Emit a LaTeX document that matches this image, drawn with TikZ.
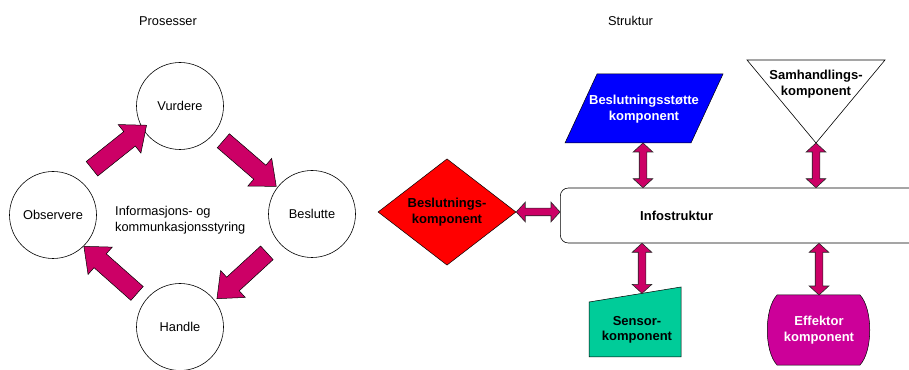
\documentclass[tikz,border=0pt]{standalone}
\usepackage{fontspec}
\setmainfont{Liberation Sans}
\usetikzlibrary{shapes.geometric,shapes.arrows,calc,positioning}

\definecolor{pilrod}{HTML}{CC0066}
\definecolor{effektorfarge}{HTML}{CC0099}
\definecolor{sensorfarge}{HTML}{00CC99}

\tikzset{
  txt/.style={font=\fontsize{12.8}{16}\selectfont, align=center, inner sep=0pt},
  btxt/.style={font=\fontsize{13}{15.5}\selectfont\bfseries, align=center, inner sep=0pt},
  prosess/.style={circle, draw, line width=0.6pt, minimum size=87pt, inner sep=0pt,
                  font=\fontsize{12.8}{16}\selectfont},
  kretspil/.style={single arrow, draw, line width=0.5pt, fill=pilrod,
                   single arrow head extend=9pt, single arrow tip angle=80,
                   single arrow head indent=0pt, inner xsep=0pt, inner ysep=9pt},
  dobbelpil/.style={double arrow, draw=black!85, line width=0.6pt, fill=pilrod,
                    double arrow head extend=6pt, double arrow tip angle=95,
                    double arrow head indent=0pt, inner xsep=0pt, inner ysep=3.5pt},
  krets/.style={to path={let \p1=(\tikztostart), \p2=(\tikztotarget),
      \n1={veclen(\x2-\x1,\y2-\y1)}, \n2={atan2(\y2-\y1,\x2-\x1)} in
      node[kretspil, minimum height=\n1, rotate=\n2] (#1) at ($(\p1)!0.5!(\p2)$) {}}},
  kobling/.style={to path={let \p1=(\tikztostart), \p2=(\tikztotarget),
      \n1={veclen(\x2-\x1,\y2-\y1)}, \n2={atan2(\y2-\y1,\x2-\x1)} in
      node[dobbelpil, minimum height=\n1, rotate=\n2] (#1) at ($(\p1)!0.5!(\p2)$) {}}},
}

\begin{document}
\begin{tikzpicture}[x=1pt, y=1pt]
\useasboundingbox (0,0) rectangle (909,369);

% Prosesser
\node[txt] (prosesser) at (168,348) {Prosesser};
\node[prosess] (vurd) at (180,263) {Vurdere};
\node[prosess] (obs)  at (53,154)  {Observere};
\node[prosess] (besl) at (312,155) {Beslutte};
\node[prosess] (hand) at (180,42)  {Handle};
\node[txt, anchor=west, align=left] (styring) at (115,149) {Informasjons- og\\kommunkasjonsstyring};

\path ($(obs)+(51:55)$)   to[krets=p1] ($(vurd)+(211:44)$);
\path ($(vurd)+(-38.5:50)$) to[krets=p2] ($(besl)+(142:50.6)$);
\path ($(besl)+(220.5:54)$) to[krets=p3] ($(hand)+(38:52)$);
\path ($(hand)+(142.4:49)$) to[krets=p4] ($(obs)+(-45:49.5)$);

% Struktur
\node[txt] (struktur) at (630.5,348) {Struktur};

\node[draw, rounded corners=8pt, line width=0.6pt, minimum width=420pt, minimum height=55pt,
      anchor=west] (info) at (560,153.5) {};
\node[btxt, right=80pt of info.west] (infolbl) {Infostruktur};

\node[diamond, draw, fill=red, line width=0.5pt, minimum width=138pt, minimum height=98pt,
      inner sep=0pt, btxt] (beslk) at (447,157) {Beslutnings-\\komponent};

\draw[fill=blue, line width=0.5pt] (565,226) -- (691,226) -- (723,295) -- (597,295) -- cycle;
\coordinate (stottebunn) at (643,226);
\node[btxt, text=white] (stotte) at (644,260) {Beslutningsstøtte\\komponent};

\draw[fill=white, line width=0.6pt] (747,309) -- (885,309) -- (816,226) -- cycle;
\coordinate (samhspiss) at (816,226);
\node[btxt] (samh) at (816,285) {Samhandlings-\\komponent};

\coordinate (sensNV) at (589,67);
\coordinate (sensNO) at (681,82);
\draw[fill=sensorfarge, line width=0.5pt] (sensNV) -- (sensNO) -- (681,12) -- (589,12) -- cycle;
\coordinate (sensortopp) at ($(sensNV)!0.576!(sensNO)$);
\node[btxt] (sensor) at (637,39) {Sensor-\\komponent};

\draw[fill=effektorfarge, line width=0.5pt] (777,74) -- (860,74) .. controls (873,60) and (873,18) .. (860,4)
   -- (777,4) .. controls (764,18) and (764,60) .. (777,74) -- cycle;
\coordinate (effektortopp) at (819,74);
\node[btxt, text=white] (effektor) at (819,39) {Effektor\\komponent};

% koblinger
\path (beslk.east) to[kobling=k1] (beslk.east -| info.west);
\path (stottebunn) to[kobling=k2] (stottebunn |- info.north);
\path (samhspiss) to[kobling=k3] (samhspiss |- info.north);
\path (sensortopp -| 642,0) to[kobling=k4] (642,0 |- info.south);
\path (effektortopp) to[kobling=k5] (effektortopp |- info.south);
\end{tikzpicture}
\end{document}
